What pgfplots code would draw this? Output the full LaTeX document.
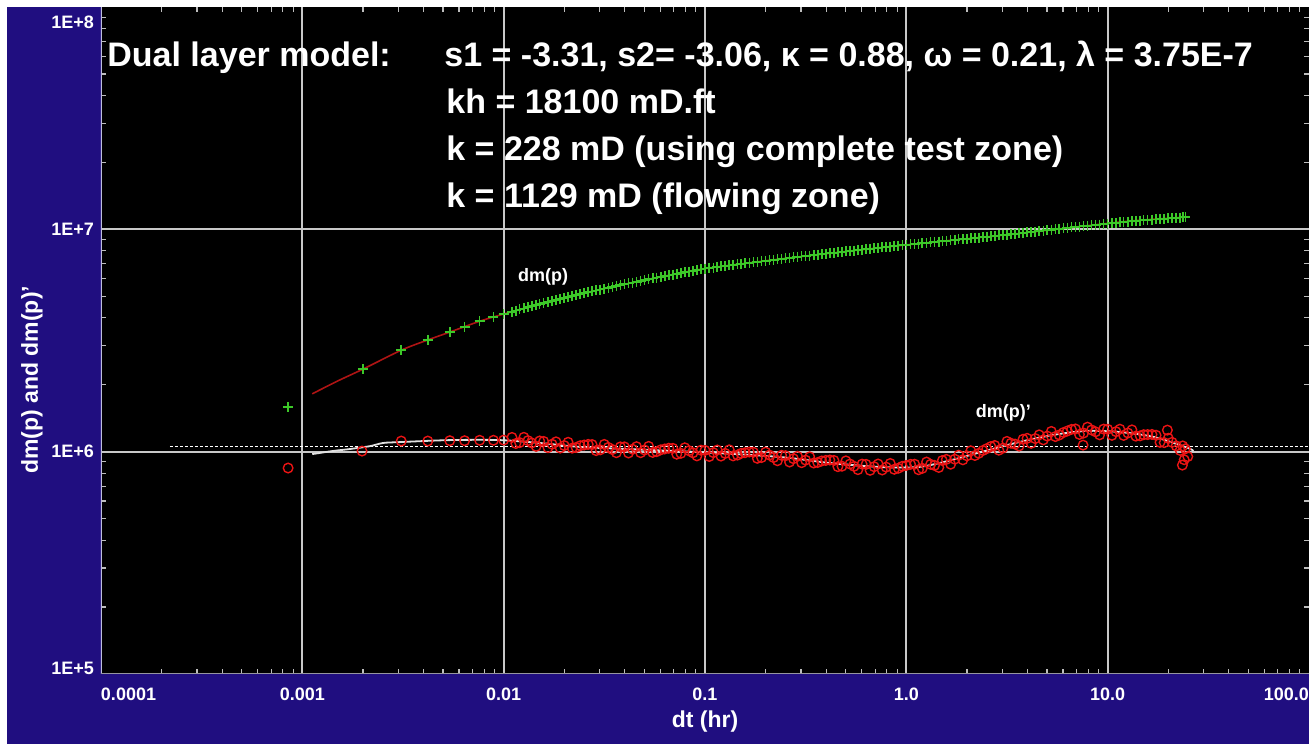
\documentclass[border=0pt]{standalone}
\usepackage{pgfplots}
\pgfplotsset{compat=1.18}
\usepackage{fontspec}
\setmainfont{Liberation Sans}

\definecolor{frameblue}{RGB}{32,14,128}
\definecolor{gridgray}{RGB}{200,200,200}
\definecolor{tickgray}{RGB}{190,190,190}
\definecolor{pgreen}{RGB}{60,200,40}
\definecolor{pred}{RGB}{235,20,20}
\definecolor{modelred}{RGB}{175,20,20}
\definecolor{modelwhite}{RGB}{225,225,225}

\begin{document}
\begin{tikzpicture}
% page and frame (1px = 0.5pt)
\fill[white] (0,0) rectangle (658pt,372pt);
\fill[frameblue] (3.5pt,0) rectangle (654.5pt,368.5pt);

\begin{axis}[
  at={(50.5pt,35pt)}, anchor=south west,
  scale only axis, width=604pt, height=333.5pt,
  xmode=log, ymode=log,
  xmin=1e-4, xmax=100, ymin=1e5, ymax=1e8,
  axis background/.style={fill=black},
  axis line style={draw=none},
  xtick={1e-3,1e-2,1e-1,1,10},
  xticklabels={0.001,0.01,0.1,1.0,10.0},
  extra x ticks={1e-4,100},
  extra x tick labels={\makebox[0pt][l]{0.0001},\makebox[0pt][r]{100.0}},
  extra x tick style={grid=none},
  ytick={1e6,1e7},
  yticklabels={1E+6,1E+7},
  extra y ticks={1e5,1e8},
  extra y tick labels={\smash{\raisebox{-0.2pt}{1E+5}},\smash{\raisebox{-10.7pt}{1E+8}}},
  extra y tick style={grid=none},
  minor xtick={2e-4,3e-4,4e-4,5e-4,6e-4,7e-4,8e-4,9e-4,
               2e-3,3e-3,4e-3,5e-3,6e-3,7e-3,8e-3,9e-3,
               2e-2,3e-2,4e-2,5e-2,6e-2,7e-2,8e-2,9e-2,
               0.2,0.3,0.4,0.5,0.6,0.7,0.8,0.9,
               2,3,4,5,6,7,8,9,
               20,30,40,50,60,70,80,90},
  minor ytick={2e5,3e5,4e5,5e5,6e5,7e5,8e5,9e5,
               2e6,3e6,4e6,5e6,6e6,7e6,8e6,9e6,
               2e7,3e7,4e7,5e7,6e7,7e7,8e7,9e7},
  grid=major,
  major grid style={draw=gridgray, line width=1pt},
  tick style={draw=tickgray, line width=0.6pt},
  major tick length=0pt,
  minor tick length=2.5pt,
  tick label style={font=\fontsize{9}{10}\selectfont\bfseries, text=white},
  xticklabel style={yshift=-3.3pt},
  xlabel={dt (hr)},
  ylabel={dm(p) and dm(p)’},
  label style={font=\fontsize{11.5}{13}\selectfont\bfseries, text=white},
  xlabel style={at={([yshift=-24pt]axis description cs:0.5,0)}, anchor=center},
  ylabel style={at={([xshift=-34.5pt]axis description cs:0,0.441)}, anchor=center},
]

% dotted reference line
\addplot[white, line width=0.5pt, dash pattern=on 1.5pt off 1pt]
  coordinates {(2.2e-4,1.053e6) (100,1.053e6)};

% dm(p) data
\addplot[only marks, mark=+, mark size=2.5pt, pgreen, line width=0.8pt] coordinates {
(0.00085,1.59e6) (0.0020,2.35e6) (0.0031,2.86e6) (0.0042,3.18e6) (0.0054,3.45e6)
(0.0064,3.63e6) (0.0076,3.86e6) (0.0089,4.03e6) (0.0100,4.16e6)
(0.0110,4.26e6) (0.0120,4.36e6) (0.0132,4.46e6) (0.0145,4.56e6) (0.0158,4.66e6)
(0.0174,4.76e6) (0.0191,4.86e6) (0.0209,4.96e6) (0.0229,5.06e6) (0.0251,5.16e6)
(0.0275,5.26e6) (0.0302,5.36e6) (0.0331,5.46e6) (0.0363,5.56e6) (0.0398,5.66e6)
(0.0437,5.76e6) (0.0479,5.86e6) (0.0525,5.96e6) (0.0575,6.06e6) (0.0631,6.16e6)
(0.0692,6.26e6) (0.0759,6.36e6) (0.0832,6.46e6) (0.0912,6.56e6) (0.100,6.66e6)
(0.110,6.73e6) (0.120,6.81e6) (0.132,6.88e6) (0.145,6.96e6) (0.158,7.03e6)
(0.174,7.10e6) (0.191,7.18e6) (0.209,7.25e6) (0.229,7.33e6) (0.251,7.40e6)
(0.275,7.47e6) (0.302,7.55e6) (0.331,7.62e6) (0.363,7.70e6) (0.398,7.77e6)
(0.437,7.84e6) (0.479,7.92e6) (0.525,7.99e6) (0.575,8.07e6) (0.631,8.14e6)
(0.692,8.21e6) (0.759,8.29e6) (0.832,8.36e6) (0.912,8.44e6) (1.00,8.51e6)
(1.10,8.58e6) (1.20,8.66e6) (1.32,8.73e6) (1.45,8.81e6) (1.58,8.88e6)
(1.74,8.96e6) (1.91,9.03e6) (2.09,9.11e6) (2.29,9.18e6) (2.51,9.26e6)
(2.75,9.34e6) (3.02,9.41e6) (3.31,9.50e6) (3.63,9.59e6) (3.98,9.68e6)
(4.37,9.77e6) (4.79,9.86e6) (5.25,9.96e6) (5.75,10.05e6) (6.31,10.14e6)
(6.92,10.23e6) (7.59,10.32e6) (8.32,10.41e6) (9.12,10.51e6) (10.0,10.60e6)
(11.0,10.69e6) (12.0,10.78e6) (13.2,10.87e6) (14.5,10.94e6) (15.8,11.01e6)
(17.4,11.08e6) (19.1,11.15e6) (20.9,11.23e6) (22.9,11.30e6) (24.3,11.34e6)
(0.0115,4.31e6) (0.0126,4.41e6) (0.0138,4.51e6) (0.0151,4.61e6) (0.0166,4.71e6)
(0.0182,4.81e6) (0.0200,4.91e6) (0.0219,5.01e6) (0.0240,5.11e6) (0.0263,5.21e6)
(0.0288,5.31e6) (0.0316,5.41e6) (0.0347,5.51e6) (0.0380,5.61e6) (0.0417,5.71e6)
(0.0457,5.81e6) (0.0501,5.91e6) (0.0550,6.01e6) (0.0603,6.11e6) (0.0661,6.21e6)
(0.0724,6.31e6) (0.0794,6.41e6) (0.0871,6.51e6) (0.0955,6.61e6) (0.105,6.70e6)
(0.115,6.77e6) (0.126,6.85e6) (0.138,6.92e6) (0.151,7.00e6) (0.166,7.07e6)
(0.182,7.14e6) (0.200,7.22e6) (0.219,7.29e6) (0.240,7.37e6) (0.263,7.44e6)
(0.288,7.51e6) (0.316,7.59e6) (0.347,7.66e6) (0.380,7.74e6) (0.417,7.81e6)
(0.457,7.88e6) (0.501,7.96e6) (0.550,8.03e6) (0.603,8.11e6) (0.661,8.18e6)
(0.724,8.25e6) (0.794,8.33e6) (0.871,8.40e6) (0.955,8.48e6) (1.05,8.55e6)
(1.15,8.62e6) (1.26,8.70e6) (1.38,8.77e6) (1.51,8.85e6) (1.66,8.92e6)
(1.82,9.00e6) (2.00,9.07e6) (2.19,9.15e6) (2.40,9.22e6) (2.63,9.30e6)
(2.88,9.38e6) (3.16,9.45e6) (3.47,9.55e6) (3.80,9.64e6) (4.17,9.73e6)
(4.57,9.82e6) (5.01,9.91e6) (5.50,10.01e6) (6.03,10.10e6) (6.61,10.19e6)
(7.24,10.28e6) (7.94,10.37e6) (8.71,10.46e6) (9.55,10.56e6) (10.5,10.65e6)
(11.5,10.74e6) (12.6,10.83e6) (13.8,10.91e6) (15.1,10.98e6) (16.6,11.05e6)
(18.2,11.12e6) (20.0,11.19e6) (21.9,11.27e6) (23.6,11.32e6)
};

% dm(p) model
\addplot[modelred, line width=0.8pt, smooth] coordinates {
(0.00112,1.82e6) (0.0015,2.08e6) (0.0020,2.35e6) (0.0031,2.86e6) (0.0042,3.18e6)
(0.0054,3.45e6) (0.0076,3.86e6) (0.0100,4.16e6) (0.0158,4.66e6) (0.0251,5.16e6)
(0.0398,5.66e6) (0.0631,6.16e6) (0.1,6.66e6) (0.251,7.40e6) (0.631,8.14e6)
(1.0,8.51e6) (1.58,8.88e6) (3.16,9.45e6) (6.31,10.14e6) (12.6,10.87e6) (24.8,11.36e6)
};

% dm(p)' data
\addplot[only marks, mark=o, mark size=2.4pt, pred, line width=0.7pt] coordinates {
(0.00085,0.844e6) (0.00198,1.006e6) (0.0031,1.116e6) (0.0042,1.116e6) (0.0054,1.12e6)
(0.0064,1.12e6) (0.0076,1.125e6) (0.0089,1.125e6) (0.0100,1.127e6)
(0.0110,1.159e6) (0.0120,1.098e6) (0.0132,1.121e6) (0.0145,1.056e6) (0.0158,1.112e6)
(0.0174,1.080e6) (0.0191,1.038e6) (0.0209,1.102e6) (0.0229,1.044e6) (0.0251,1.071e6)
(0.0275,1.076e6) (0.0302,1.019e6) (0.0331,1.045e6) (0.0363,0.989e6) (0.0398,1.051e6)
(0.0437,1.025e6) (0.0479,0.989e6) (0.0525,1.056e6) (0.0575,1.000e6) (0.0631,1.028e6)
(0.0692,1.035e6) (0.0759,0.983e6) (0.0832,1.010e6) (0.0912,0.957e6) (0.100,1.013e6)
(0.110,0.990e6) (0.120,0.955e6) (0.132,1.019e6) (0.145,0.965e6) (0.158,0.989e6)
(0.174,0.994e6) (0.191,0.941e6) (0.209,0.965e6) (0.229,0.910e6) (0.251,0.959e6)
(0.275,0.930e6) (0.302,0.892e6) (0.331,0.948e6) (0.363,0.894e6) (0.398,0.913e6)
(0.437,0.913e6) (0.479,0.860e6) (0.525,0.880e6) (0.575,0.830e6) (0.631,0.877e6)
(0.692,0.856e6) (0.759,0.827e6) (0.832,0.885e6) (0.912,0.842e6) (1.00,0.867e6)
(1.10,0.878e6) (1.20,0.841e6) (1.32,0.877e6) (1.45,0.849e6) (1.58,0.923e6)
(1.74,0.925e6) (1.91,0.919e6) (2.09,1.009e6) (2.29,0.983e6) (2.51,1.032e6)
(2.75,1.066e6) (3.02,1.037e6) (3.31,1.091e6) (3.63,1.060e6) (3.98,1.148e6)
(4.37,1.145e6) (4.79,1.130e6) (5.25,1.233e6) (5.75,1.188e6) (6.31,1.239e6)
(6.92,1.265e6) (7.59,1.212e6) (8.32,1.252e6) (9.12,1.190e6) (10.0,1.261e6)
(11.0,1.230e6) (12.0,1.183e6) (13.2,1.253e6) (14.5,1.178e6) (15.8,1.193e6)
(17.4,1.185e6) (19.1,1.098e6) (20.9,1.101e6) (22.9,1.013e6) (24.3,1.030e6)
(7.55,1.07e6) (19.8,1.25e6) (24.0,0.92e6) (23.5,0.87e6) (25.0,0.95e6)
(0.0115,1.088e6) (0.0126,1.160e6) (0.0138,1.094e6) (0.0151,1.117e6) (0.0166,1.042e6)
(0.0182,1.107e6) (0.0200,1.065e6) (0.0219,1.037e6) (0.0240,1.063e6) (0.0263,1.078e6)
(0.0288,1.011e6) (0.0316,1.078e6) (0.0347,1.022e6) (0.0380,1.051e6) (0.0417,0.986e6)
(0.0457,1.053e6) (0.0501,1.017e6) (0.0550,0.992e6) (0.0603,1.019e6) (0.0661,1.036e6)
(0.0724,0.974e6) (0.0794,1.041e6) (0.0871,0.988e6) (0.0955,1.015e6) (0.105,0.951e6)
(0.115,1.017e6) (0.126,0.982e6) (0.138,0.957e6) (0.151,0.982e6) (0.166,0.996e6)
(0.182,0.933e6) (0.200,0.995e6) (0.219,0.941e6) (0.240,0.963e6) (0.263,0.898e6)
(0.288,0.953e6) (0.316,0.916e6) (0.347,0.889e6) (0.380,0.908e6) (0.417,0.917e6)
(0.457,0.856e6) (0.501,0.909e6) (0.550,0.859e6) (0.603,0.879e6) (0.661,0.824e6)
(0.724,0.880e6) (0.794,0.852e6) (0.871,0.833e6) (0.955,0.859e6) (1.05,0.877e6)
(1.15,0.829e6) (1.26,0.898e6) (1.38,0.867e6) (1.51,0.912e6) (1.66,0.878e6)
(1.82,0.964e6) (2.00,0.958e6) (2.19,0.961e6) (2.40,1.012e6) (2.63,1.054e6)
(2.88,1.015e6) (3.16,1.112e6) (3.47,1.081e6) (3.80,1.137e6) (4.17,1.090e6)
(4.57,1.190e6) (5.01,1.175e6) (5.50,1.169e6) (6.03,1.219e6) (6.61,1.259e6)
(7.24,1.195e6) (7.94,1.289e6) (8.71,1.228e6) (9.55,1.263e6) (10.5,1.184e6)
(11.5,1.262e6) (12.6,1.213e6) (13.8,1.174e6) (15.1,1.192e6) (16.6,1.195e6)
(18.2,1.101e6) (20.0,1.149e6) (21.9,1.061e6) (23.6,1.061e6)
};

% dm(p)' model
\addplot[modelwhite, line width=0.9pt, smooth] coordinates {
(0.00112,0.975e6) (0.00142,1.007e6) (0.00173,1.028e6) (0.00217,1.059e6)
(0.00252,1.094e6) (0.00305,1.104e6) (0.0054,1.127e6) (0.0096,1.127e6)
(0.0158,1.09e6) (0.024,1.05e6) (0.05,1.02e6) (0.095,0.995e6) (0.236,0.946e6)
(0.419,0.889e6) (0.741,0.853e6) (1.15,0.853e6) (1.67,0.916e6) (2.46,1.007e6)
(3.63,1.104e6) (5.36,1.189e6) (7.82,1.239e6) (11.5,1.225e6) (17.0,1.164e6)
(25.1,1.038e6) (26.6,1.007e6)
};

% axis lines on the left and bottom only
\draw[color={rgb,255:red,190;green,190;blue,220}, line width=1pt]
  (rel axis cs:0,0) -- (rel axis cs:0,1);
\draw[color={rgb,255:red,150;green,150;blue,160}, line width=1pt]
  (rel axis cs:0,0) -- (rel axis cs:1,0);

\node[white, font=\fontsize{9}{10}\selectfont\bfseries] at (axis cs:0.0157,6.1e6) {dm(p)};
\node[white, font=\fontsize{9}{10}\selectfont\bfseries] at (axis cs:3.03,1.49e6) {dm(p)’};
\end{axis}

% model annotation
\begin{scope}[every node/.style={white, inner sep=0pt, anchor=base west,
    font=\fontsize{17}{20}\selectfont\bfseries}]
\node at (53.5pt,338.5pt) {Dual layer model:};
\node at (222pt,338.5pt) {s1 = -3.31, s2= -3.06, κ = 0.88, ω = 0.21, λ = 3.75E-7};
\node at (223pt,315pt) {kh = 18100 mD.ft};
\node at (223pt,291.5pt) {k = 228 mD (using complete test zone)};
\node at (223pt,268pt) {k = 1129 mD (flowing zone)};
\end{scope}
\end{tikzpicture}
\end{document}
